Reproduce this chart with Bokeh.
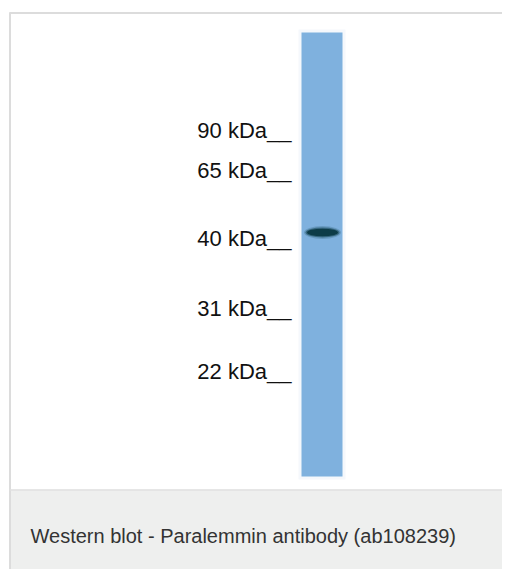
from bokeh.plotting import figure
from bokeh.models import Range1d
from bokeh.core.properties import value
from bokeh.embed import file_html
from bokeh.resources import INLINE

# ---- data ----
marker_labels = ["90 kDa", "65 kDa", "40 kDa", "31 kDa", "22 kDa"]
marker_pos = [130, 170, 238, 308, 371]      # migration position of each ladder mark
band_labels = ["Paralemmin"]
band_pos = [232]                              # migration position of the detected band
band_strength = [1.0]
caption = "Western blot - Paralemmin antibody (ab108239)"

W, H = 502, 569
p = figure(width=W, height=H, output_backend="svg", toolbar_location=None,
           x_range=Range1d(0, W), y_range=Range1d(H, 0),
           min_border=0, outline_line_color=None)
p.axis.visible = False
p.grid.visible = False
p.background_fill_color = "white"
p.border_fill_color = "white"

# frame and caption area
p.quad(left=9, right=W, top=489, bottom=H, fill_color="#eeefee", line_color=None)
p.segment(x0=9, y0=12.5, x1=W, y1=12.5, line_color="#dcdcdc", line_width=2)
p.segment(x0=9.5, y0=12, x1=9.5, y1=H, line_color="#dcdcdc", line_width=2)
p.segment(x0=9, y0=489.5, x1=W, y1=489.5, line_color="#e0e0e0", line_width=1.5)

# lane
lane_x0, lane_x1, lane_top, lane_bot = 301, 342, 32, 476
p.quad(left=lane_x0 - 3, right=lane_x1 + 3, top=lane_top - 3, bottom=lane_bot + 3,
       fill_color="#eef4fa", line_color=None, fill_alpha=0.6)
p.quad(left=lane_x0, right=lane_x1, top=lane_top, bottom=lane_bot,
       fill_color="#7fb1de", line_color=None)

# band (soft edges via stacked ellipses)
cx = (lane_x0 + lane_x1) / 2 + 0.5
for w, h, a in [(37, 13, 0.2), (34, 10, 0.5), (31, 7.5, 0.95)]:
    p.ellipse(x=[cx] * len(band_pos), y=band_pos, width=w, height=h,
              fill_color="#0b3a45", fill_alpha=[a * s for s in band_strength],
              line_color=None)

# ladder labels
p.text(x=[291] * len(marker_pos), y=marker_pos,
       text=[m + "__" for m in marker_labels],
       text_font=value("Liberation Sans"), text_font_size="22px",
       text_color="#111111", text_align="right", text_baseline="alphabetic")

# caption
p.text(x=[30], y=[535], text=[caption],
       text_font=value("Liberation Sans"), text_font_size="20px",
       text_color="#333333", text_align="left", text_baseline="alphabetic")

open("out.html", "w").write(file_html(p, INLINE))
